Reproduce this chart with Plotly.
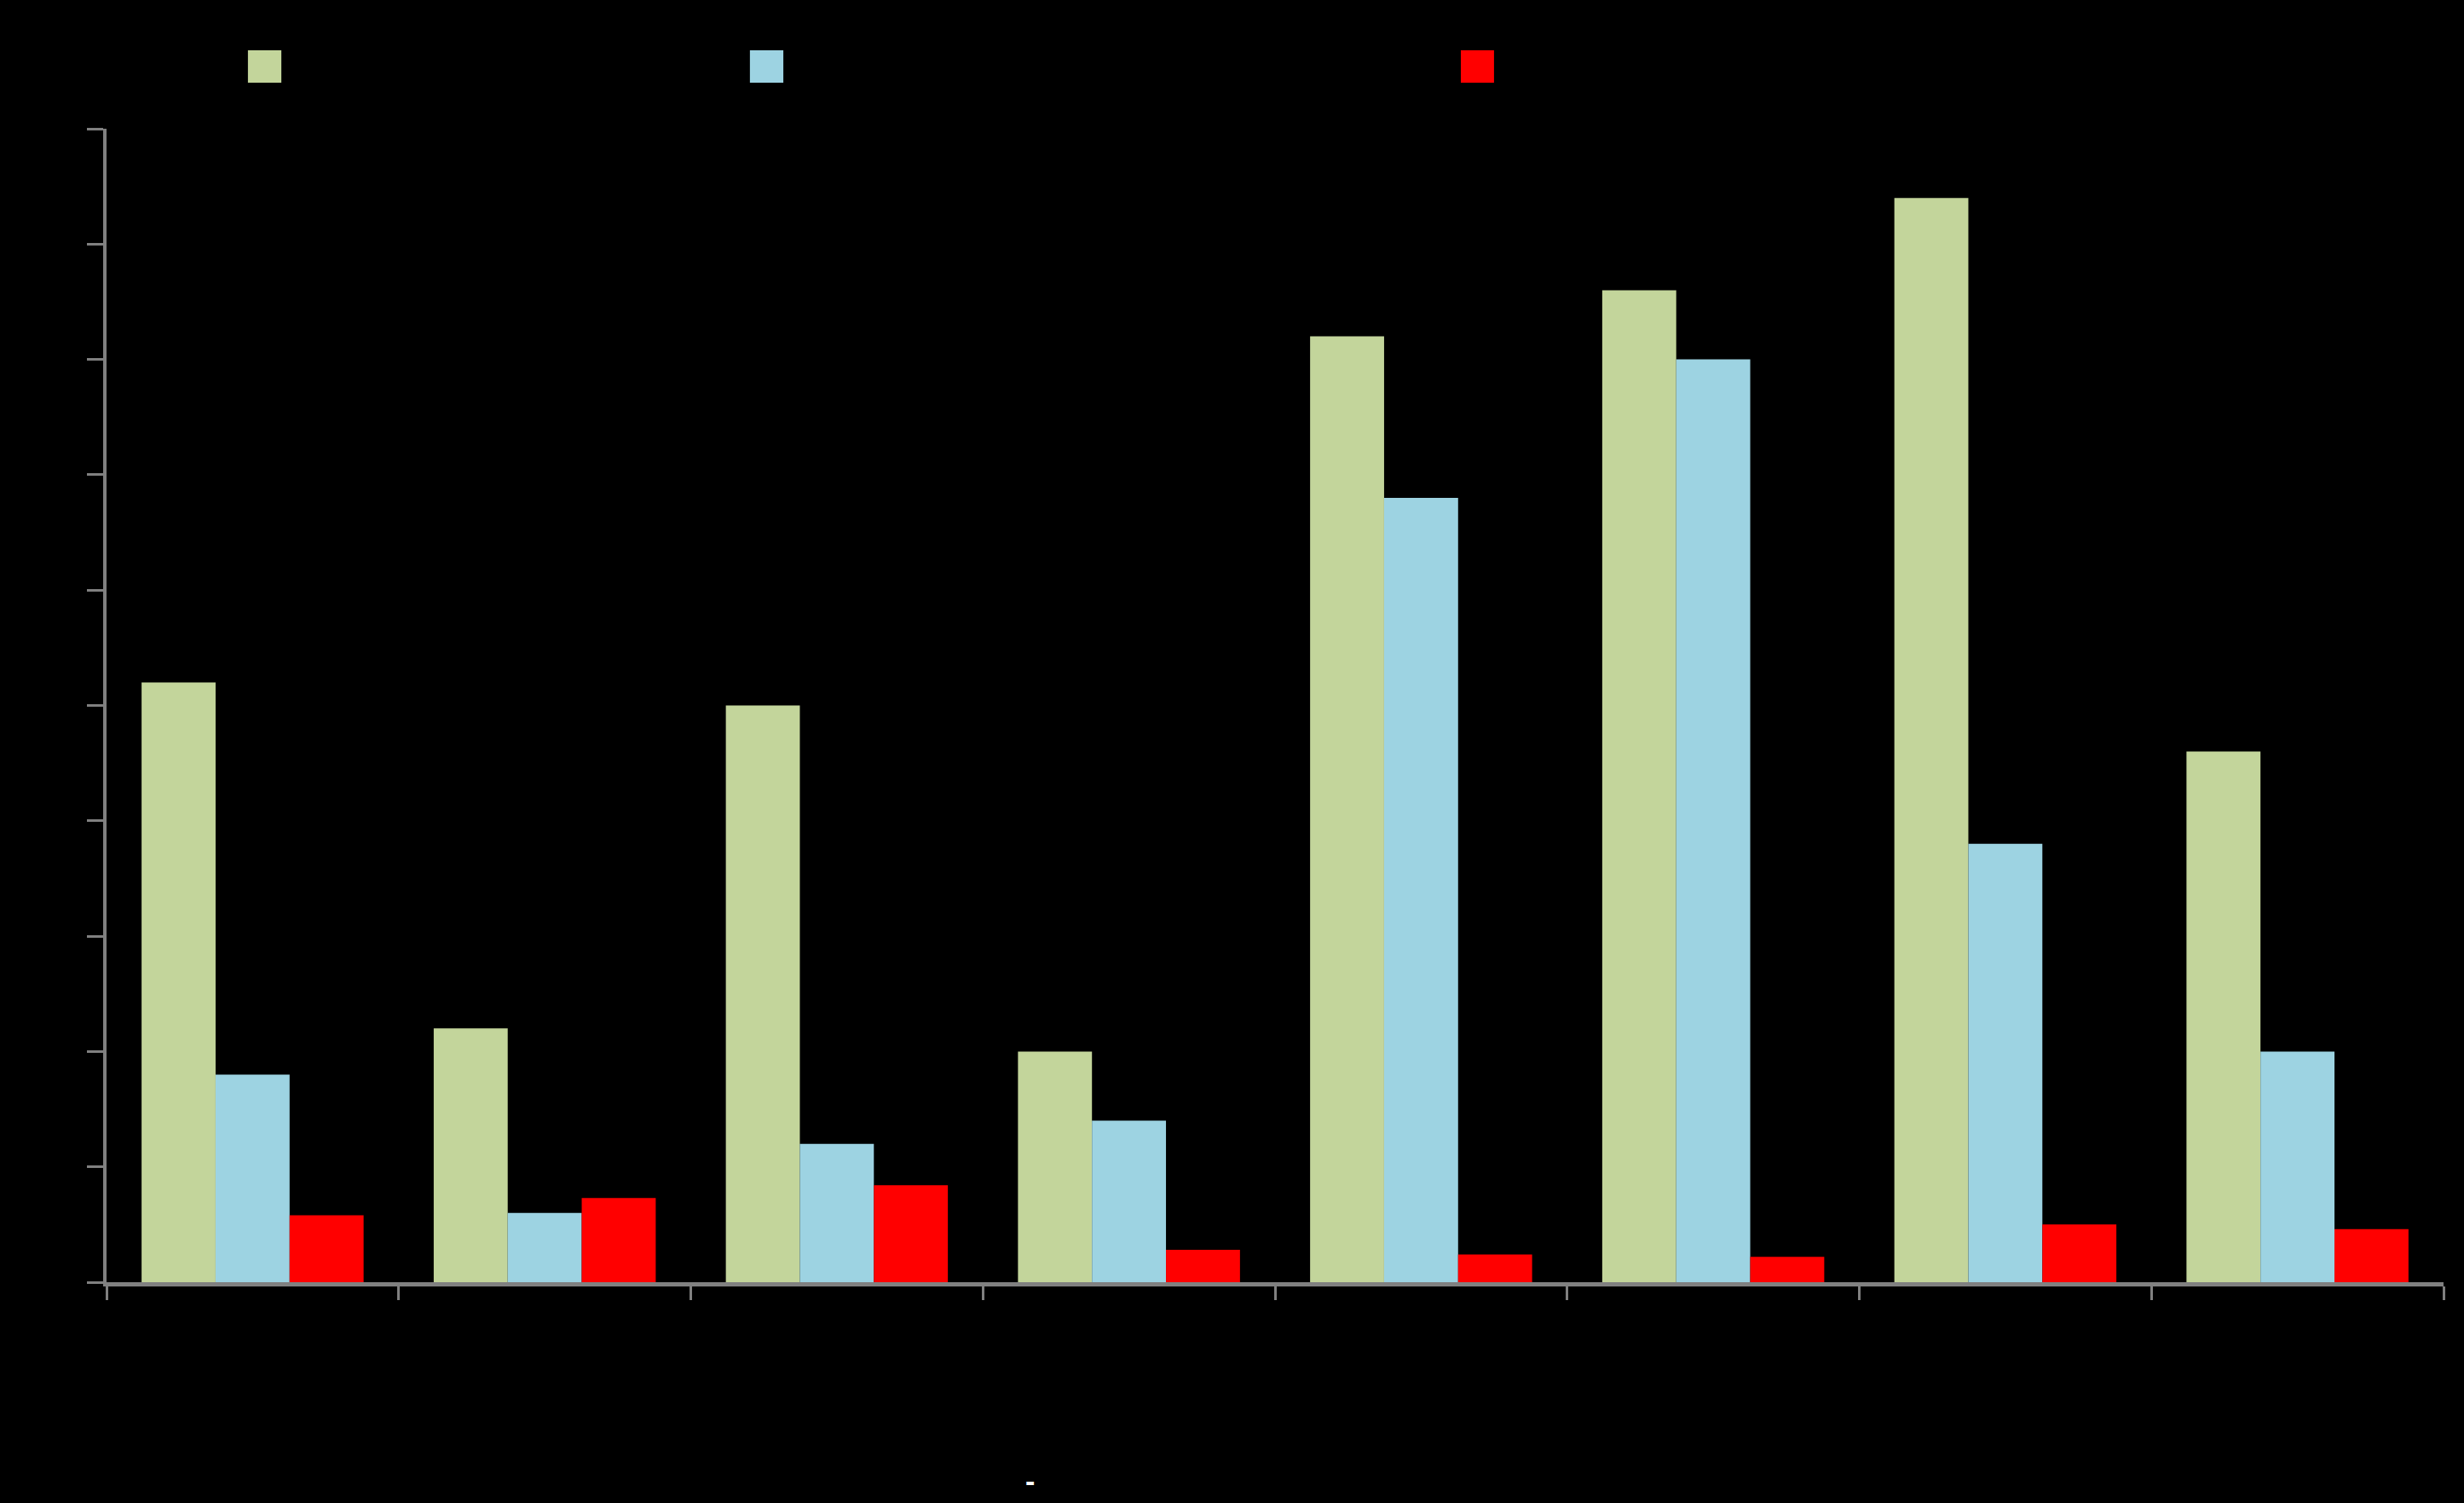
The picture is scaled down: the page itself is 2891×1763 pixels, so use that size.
import plotly.graph_objects as go

categories = ["Cat 1", "Cat 2", "Cat 3", "Cat 4", "Cat 5", "Cat 6", "Cat 7", "Cat 8"]
series_names = ["Series 1", "Series 2", "Series 3"]
green_vals = [5.2, 2.2, 5.0, 2.0, 8.2, 8.6, 9.4, 4.6]
blue_vals = [1.8, 0.6, 1.2, 1.4, 6.8, 8.0, 3.8, 2.0]
red_vals = [0.58, 0.73, 0.84, 0.28, 0.24, 0.22, 0.50, 0.46]
y_ticks = [0, 1, 2, 3, 4, 5, 6, 7, 8, 9, 10]

colors = ["#C3D59B", "#9DD3E2", "#FF0000"]

fig = go.Figure()
for name, vals, col in zip(series_names, [green_vals, blue_vals, red_vals], colors):
    fig.add_trace(go.Bar(x=categories, y=vals, name=name, marker=dict(color=col, line=dict(width=0))))

# legend drawn as squares + (black) labels
leg_x = [(0.0605, 0.0748), (0.2753, 0.2896), (0.5795, 0.5937)]
for (x0, x1), col, name in zip(leg_x, colors, series_names):
    fig.add_shape(type="rect", xref="paper", yref="paper", x0=x0, x1=x1, y0=1.0399, y1=1.068,
                  fillcolor=col, line=dict(width=0))
    fig.add_annotation(xref="paper", yref="paper", x=x1 + 0.005, y=1.054, text=name, showarrow=False,
                       xanchor="left", yanchor="middle", font=dict(color="black", size=28))

fig.add_annotation(xref="paper", yref="paper", x=0.3953, y=-0.1725, text="<b>-</b>", showarrow=False,
                   xanchor="center", yanchor="middle",
                   font=dict(color="white", size=34, family="Liberation Sans"))

fig.update_layout(
    width=2891, height=1763,
    paper_bgcolor="black", plot_bgcolor="black",
    margin=dict(l=125, r=24, t=151, b=259),
    barmode="group", bargap=0.24, bargroupgap=0,
    showlegend=False,
    font=dict(family="Liberation Sans", color="black", size=28),
)
fig.update_xaxes(
    showline=True, linecolor="#808080", linewidth=5,
    ticks="outside", tickcolor="#808080", ticklen=16, tickwidth=3,
    tickson="boundaries", showgrid=False, zeroline=False,
    tickfont=dict(color="black", size=28),
)
fig.update_yaxes(
    range=[0, 10], tickvals=y_ticks,
    showline=True, linecolor="#808080", linewidth=4,
    ticks="outside", tickcolor="#808080", ticklen=19, tickwidth=3,
    showgrid=False, zeroline=False,
    tickfont=dict(color="black", size=28),
)

fig.write_html(
    "out.html",
    config={"displayModeBar": False},
    post_script="document.body.style.margin='0';document.body.style.padding='0';"
                "document.body.style.background='black';document.documentElement.style.background='black';",
)
